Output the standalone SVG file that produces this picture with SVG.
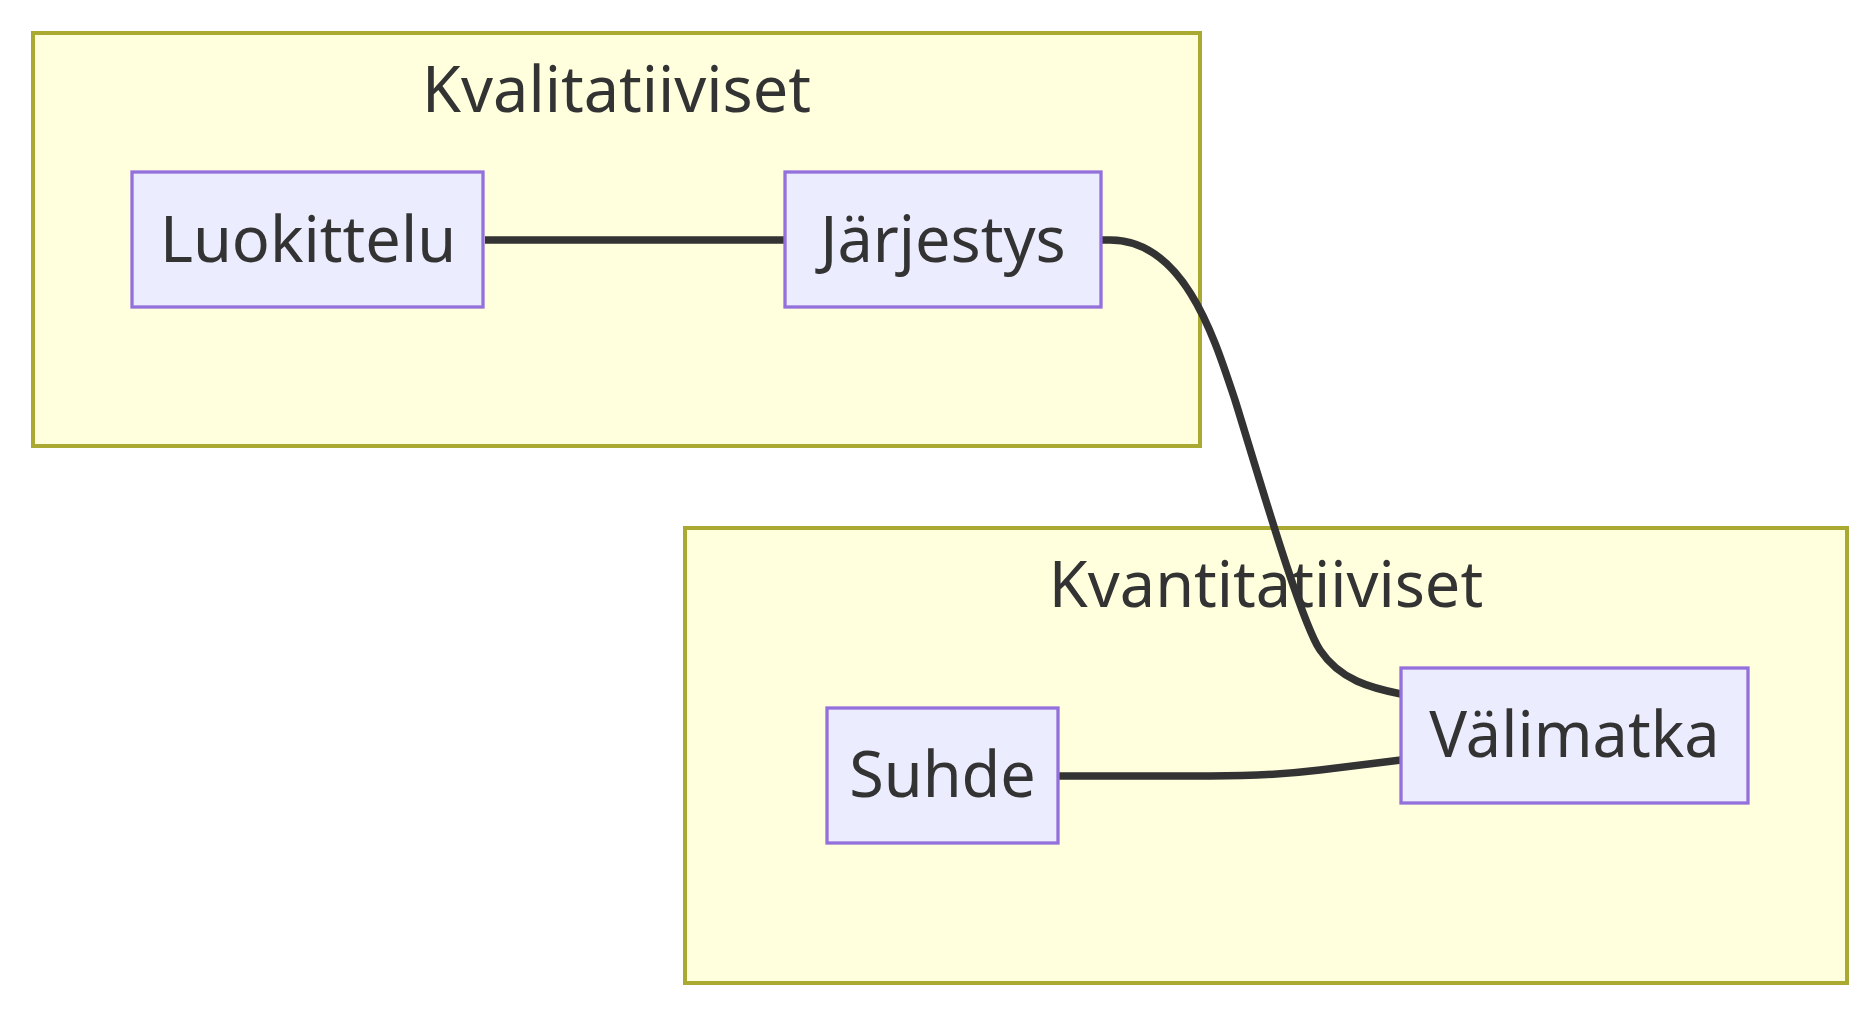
<svg xmlns="http://www.w3.org/2000/svg" width="1876" height="1016" viewBox="0 0 1876 1016">
<style>
.cluster rect{fill:#ffffde;stroke:#aaaa33;stroke-width:4}
.node rect{fill:#ECECFF;stroke:#9370DB;stroke-width:3.3}
text{font-family:"Noto Sans","Open Sans","DejaVu Sans",sans-serif;font-size:63px;fill:#333333;text-anchor:middle}
.edge{fill:none;stroke:#333333;stroke-width:7.5}
</style>
<rect width="1876" height="1016" fill="#ffffff"/>
<g id="cluster-kvalitatiiviset" class="cluster">
<rect x="33" y="33" width="1167" height="413"/>
<text x="616.5" y="112">Kvalitatiiviset</text>
</g>
<g id="cluster-kvantitatiiviset" class="cluster">
<rect x="685" y="528" width="1162" height="455"/>
<text x="1266" y="607">Kvantitatiiviset</text>
</g>
<g id="edges">
<path class="edge" d="M485,240 L785,240"/>
<path class="edge" d="M1101,240 L1110,240 C1185,240 1215,340 1235,400 C1255,464 1300,620 1320,650 C1340,680 1371,688 1401,694"/>
<path class="edge" d="M1058,776 L1210,776 C1260,776 1290,773.7 1320,770 L1401,760"/>
</g>
<g id="node-luokittelu" class="node">
<rect x="132" y="172" width="351" height="135"/>
<text x="308" y="262">Luokittelu</text>
</g>
<g id="node-jarjestys" class="node">
<rect x="785" y="172" width="316" height="135"/>
<text x="943" y="262">Järjestys</text>
</g>
<g id="node-suhde" class="node">
<rect x="827" y="708" width="231" height="135"/>
<text x="942.5" y="797">Suhde</text>
</g>
<g id="node-valimatka" class="node">
<rect x="1401" y="668" width="347" height="135"/>
<text x="1574.5" y="757">Välimatka</text>
</g>
</svg>
